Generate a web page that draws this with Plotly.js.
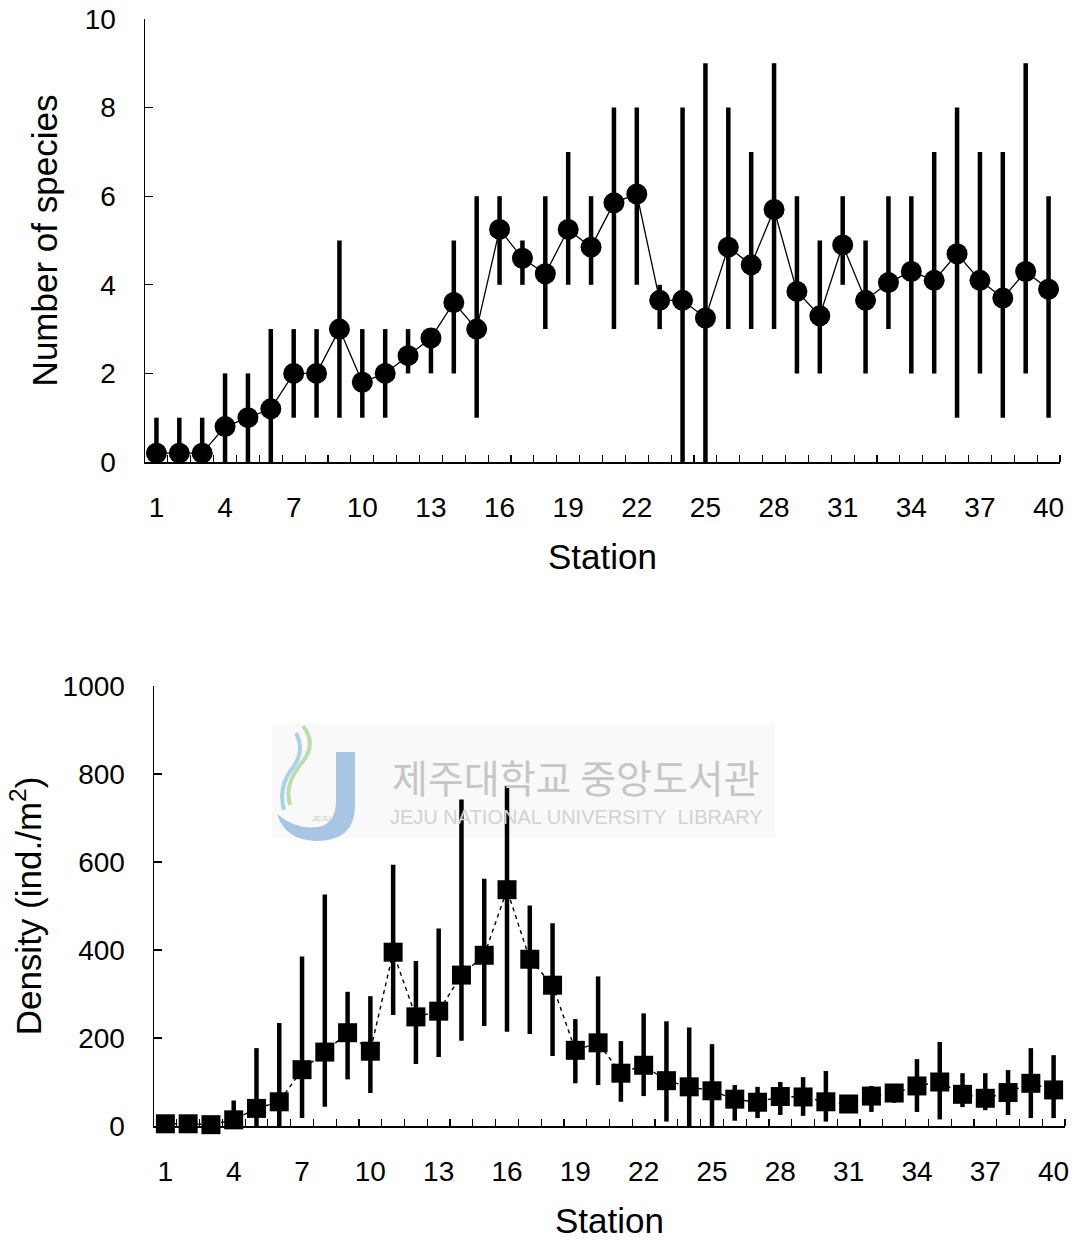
<!DOCTYPE html>
<html>
<head>
<meta charset="utf-8">
<script src="https://cdn.plot.ly/plotly-3.0.1.min.js"></script>
<style>html,body{margin:0;padding:0;background:#fff;}#chart{width:1079px;height:1241px;}</style>
</head>
<body>
<div id="chart"></div>
<script>
// ---- data ----
const stations = [1,2,3,4,5,6,7,8,9,10,11,12,13,14,15,16,17,18,19,20,21,22,23,24,25,26,27,28,29,30,31,32,33,34,35,36,37,38,39,40];
const stationTickLabels = [1,4,7,10,13,16,19,22,25,28,31,34,37,40];

const speciesMean = [0.2,0.2,0.2,0.8,1.0,1.2,2.0,2.0,3.0,1.8,2.0,2.4,2.8,3.6,3.0,5.25,4.6,4.25,5.25,4.85,5.85,6.05,3.65,3.65,3.25,4.85,4.45,5.7,3.85,3.3,4.9,3.65,4.05,4.3,4.1,4.7,4.1,3.7,4.3,3.9];
const speciesMax  = [1,1,1,2,2,3,3,3,5,3,3,3,3,5,6,6,5,6,7,6,8,8,4,8,9,8,7,9,6,5,6,5,6,6,7,8,7,7,9,6];
const speciesMin  = [0,0,0,0,0,0,1,1,1,1,1,2,2,2,1,4,4,3,4,4,3,4,3,0,0,3,3,3,2,2,4,2,3,2,2,1,2,1,2,1];

const densityMean = [5,5,3,14,40,55,128,168,212,170,395,248,261,343,388,537,379,320,172,189,120,138,103,89,80,61,54,67,66,55,50,68,75,91,100,72,63,76,97,82];
const densityMax  = [8,8,6,58,177,234,385,526,305,295,594,375,449,742,562,773,501,461,243,340,193,256,238,224,186,93,89,100,111,125,70,91,82,152,191,120,120,127,177,161];
const densityMin  = [2,2,0,0,0,0,18,44,106,75,252,141,157,194,227,214,209,159,97,93,55,68,10,0,0,12,18,25,23,10,30,32,53,32,15,43,36,25,18,18];

const speciesTicks = [0,2,4,6,8,10];
const densityTicks = [0,200,400,600,800,1000];

// ---- helpers ----
const W = 1079, H = 1241;
const minorVals = [];
for (let i = 0; i < stations.length; i++) minorVals.push(stations[i] + 0.5);
const up = (m, hi) => hi.map((v, i) => v - m[i]);
const dn = (m, lo) => m.map((v, i) => v - lo[i]);
const px = (x) => x / W, py = (y) => 1 - y / H;
function pathPx(cmds) {
  return cmds.map(c => {
    const out = [c[0]];
    for (let k = 1; k < c.length; k += 2) out.push(px(c[k]).toFixed(5) + ',' + py(c[k+1]).toFixed(5));
    return out.join(' ');
  }).join(' ');
}

const FONT = 'Liberation Sans, Arial, Helvetica, sans-serif';

const traceSpecies = {
  x: stations, y: speciesMean, type: 'scatter', mode: 'lines+markers',
  xaxis: 'x', yaxis: 'y', cliponaxis: false,
  line: {color: '#000', width: 1.3},
  marker: {symbol: 'circle', size: 21, color: '#000'},
  error_y: {type: 'data', symmetric: false, array: up(speciesMean, speciesMax), arrayminus: dn(speciesMean, speciesMin),
            thickness: 4.5, width: 0, color: '#000'},
  hoverinfo: 'x+y'
};
const traceDensity = {
  x: stations, y: densityMean, type: 'scatter', mode: 'lines+markers',
  xaxis: 'x2', yaxis: 'y2', cliponaxis: false,
  line: {color: '#000', width: 1.4, dash: '4px,4px'},
  marker: {symbol: 'square', size: 19, color: '#000'},
  error_y: {type: 'data', symmetric: false, array: up(densityMean, densityMax), arrayminus: dn(densityMean, densityMin),
            thickness: 4.5, width: 0, color: '#000'},
  hoverinfo: 'x+y'
};

function xAxis(domain, anchor) {
  return {
    domain: domain, anchor: anchor, range: [0.5, 40.5],
    tickmode: 'array', tickvals: stationTickLabels, ticktext: stationTickLabels.map(String),
    ticks: '', showline: true, linecolor: '#000', linewidth: 1.5, mirror: false,
    showgrid: false, zeroline: false,
    tickfont: {size: 28, family: FONT, color: '#000'}, ticklabelstandoff: 20,
    minor: {tickmode: 'array', tickvals: minorVals, ticks: 'inside', ticklen: 7, tickwidth: 1.2, tickcolor: '#000', showgrid: false},
    title: {text: 'Station', font: {size: 35, family: FONT, color: '#000'}, standoff: 22}
  };
}
function yAxis(domain, anchor, range, ticks, title, standoff) {
  return {
    domain: domain, anchor: anchor, range: range,
    tickmode: 'array', tickvals: ticks, ticktext: ticks.map(String),
    ticks: 'inside', ticklen: 8, tickwidth: 1.2, tickcolor: '#000',
    showline: true, linecolor: '#000', linewidth: 1.5,
    showgrid: false, zeroline: false,
    tickfont: {size: 28, family: FONT, color: '#000'}, ticklabelstandoff: 22,
    title: {text: title, font: {size: 35, family: FONT, color: '#000'}, standoff: standoff}
  };
}

const layout = {
  width: W, height: H,
  margin: {l: 0, r: 0, t: 0, b: 0},
  paper_bgcolor: '#fff', plot_bgcolor: 'rgba(0,0,0,0)',
  showlegend: false,
  font: {family: FONT, color: '#000'},
  xaxis: xAxis([145 / W, 1060 / W], 'y'),
  yaxis: yAxis([1 - 462 / H, 1 - 19 / H], 'x', [0, 10], speciesTicks, 'Number of species', 16),
  xaxis2: xAxis([154 / W, 1065 / W], 'y2'),
  yaxis2: yAxis([1 - 1126 / H, 1 - 686 / H], 'x2', [0, 1000], densityTicks, 'Density (ind./m<sup>2</sup>)', 10),
  shapes: [
    {type: 'rect', xref: 'paper', yref: 'paper', x0: px(272), x1: px(775), y0: py(838), y1: py(724),
     fillcolor: '#f9f9f9', line: {width: 0}, layer: 'below'},
    {type: 'path', xref: 'paper', yref: 'paper', layer: 'below', fillcolor: '#aac4e4', line: {width: 0},
     path: pathPx([['M',336,752],['L',355,752],['L',355,806],['Q',355,841,316,841],['Q',285,840,277,814],['Q',296,830,318,827],['Q',336,824,336,800],['Z']])},
    {type: 'path', xref: 'paper', yref: 'paper', layer: 'below', line: {color: '#bcdcae', width: 4},
     path: pathPx([['M',303,726],['Q',318,745,300,765],['Q',284,785,290,805]])},
    {type: 'path', xref: 'paper', yref: 'paper', layer: 'below', line: {color: '#a8d2ea', width: 4},
     path: pathPx([['M',296,733],['Q',306,752,291,770],['Q',278,788,284,810]])}
  ],
  annotations: [
    {text: '제주대학교 중앙도서관', xref: 'paper', yref: 'paper', x: px(576), y: py(806), xanchor: 'center', yanchor: 'bottom',
     showarrow: false, font: {family: 'Noto Sans CJK KR, sans-serif', size: 39, color: '#c6c6c6'}},
    {text: 'JEJU NATIONAL UNIVERSITY  LIBRARY', xref: 'paper', yref: 'paper', x: px(576), y: py(804), xanchor: 'center', yanchor: 'top',
     showarrow: false, font: {family: FONT, size: 20, color: '#d2d2d2'}},
    {text: 'JEJU', xref: 'paper', yref: 'paper', x: px(321), y: py(818), xanchor: 'center', yanchor: 'middle',
     showarrow: false, font: {family: FONT, size: 8, color: '#c9c9c9'}}
  ]
};

Plotly.newPlot('chart', [traceSpecies, traceDensity], layout, {displayModeBar: false, staticPlot: true});
</script>
</body>
</html>
